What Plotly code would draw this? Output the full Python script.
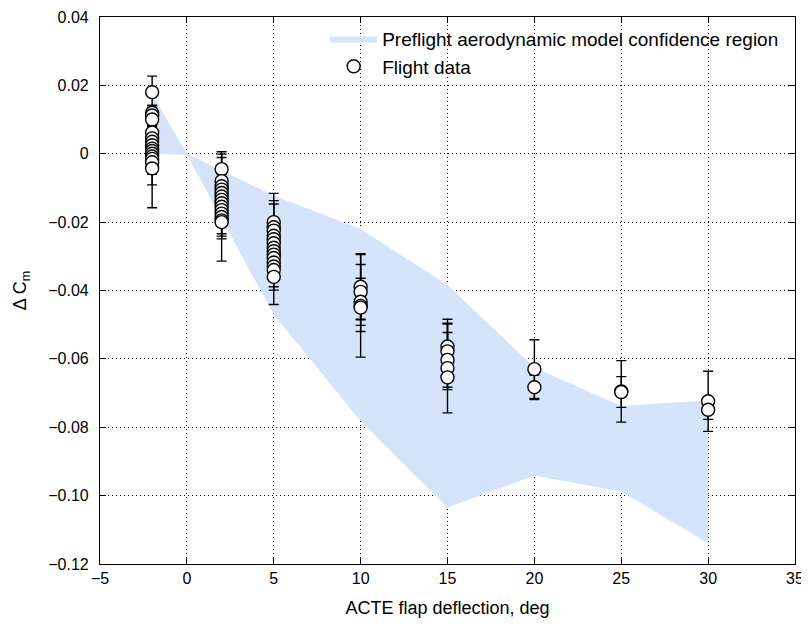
import plotly.graph_objects as go

# ---------------- data ----------------
# Preflight aerodynamic model confidence region (upper / lower bounds)
region_x = [-2, 0, 5, 10, 15, 20, 25, 30]
region_upper = [0.0175, 0.0000, -0.0122, -0.0220, -0.0384, -0.0625, -0.0738, -0.0721]
region_lower = [0.0000, -0.0003, -0.0470, -0.0782, -0.1035, -0.0941, -0.0988, -0.1139]

# Flight data, grouped by flap deflection (deg): delta Cm and error half-widths
dcm_m2 = [0.0180, 0.0120, 0.0112, 0.0100, 0.0062, 0.0045, 0.0035, 0.0025, 0.0015,
          0.0008, 0.0000, -0.0008, -0.0015, -0.0025, -0.0043]
err_m2 = [0.0047, 0.0020, 0.0030, 0.0035, 0.0040, 0.0040, 0.0045, 0.0040, 0.0040,
          0.0045, 0.0040, 0.0040, 0.0045, 0.0133, 0.0048]
dcm_2 = [-0.0045, -0.0080, -0.0095, -0.0105, -0.0115, -0.0125, -0.0135, -0.0145,
         -0.0155, -0.0165, -0.0175, -0.0185, -0.0195, -0.0200]
err_2 = [0.0051, 0.0079, 0.0084, 0.0045, 0.0040, 0.0045, 0.0040, 0.0045,
         0.0040, 0.0045, 0.0139, 0.0056, 0.0039, 0.0049]
dcm_5 = [-0.0200, -0.0215, -0.0225, -0.0240, -0.0250, -0.0262, -0.0275, -0.0285,
         -0.0295, -0.0305, -0.0318, -0.0330, -0.0340, -0.0360]
err_5 = [0.0084, 0.0078, 0.0078, 0.0045, 0.0050, 0.0045, 0.0050, 0.0045,
         0.0050, 0.0045, 0.0050, 0.0059, 0.0059, 0.0081]
dcm_10 = [-0.0389, -0.0404, -0.0433, -0.0445, -0.0450]
err_10 = [0.0097, 0.0080, 0.0069, 0.0150, 0.0070]
dcm_15 = [-0.0564, -0.0578, -0.0603, -0.0627, -0.0654]
err_15 = [0.0080, 0.0080, 0.0080, 0.0131, 0.0036]
dcm_20 = [-0.0630, -0.0683]
err_20 = [0.0086, 0.0036]
dcm_25 = [-0.0695, -0.0697]
err_25 = [0.0090, 0.0045]
dcm_30 = [-0.0724, -0.0749]
err_30 = [0.0088, 0.0028]

flap_groups = [-2, 2, 5, 10, 15, 20, 25, 30]
dcm_groups = [dcm_m2, dcm_2, dcm_5, dcm_10, dcm_15, dcm_20, dcm_25, dcm_30]
err_groups = [err_m2, err_2, err_5, err_10, err_15, err_20, err_25, err_30]

x_ticks = [-5, 0, 5, 10, 15, 20, 25, 30, 35]
y_ticks = [0.04, 0.02, 0, -0.02, -0.04, -0.06, -0.08, -0.10, -0.12]
y_tick_labels = ["0.04", "0.02", "0", "\u22120.02", "\u22120.04", "\u22120.06",
                 "\u22120.08", "\u22120.10", "\u22120.12"]

# ---------------- figure ----------------
fx, fy, fe = [], [], []
for xv, ys, es in zip(flap_groups, dcm_groups, err_groups):
    fx += [xv] * len(ys)
    fy += ys
    fe += es

FONT = "Liberation Sans, Arial, Helvetica, sans-serif"

fig = go.Figure()
fig.add_trace(go.Scatter(
    x=region_x + region_x[::-1],
    y=region_upper + region_lower[::-1],
    fill="toself", mode="lines", line=dict(width=0, color="rgba(0,0,0,0)"),
    fillcolor="rgb(214,228,251)",
    name="Preflight aerodynamic model confidence region",
    hoverinfo="skip",
))
fig.add_trace(go.Scatter(
    x=fx, y=fy, mode="markers",
    marker=dict(symbol="circle", size=13, color="white",
                line=dict(color="black", width=1.4)),
    error_y=dict(type="data", array=fe, visible=True, color="black",
                 thickness=1.4, width=5),
    name="Flight data",
))

axis_common = dict(
    showline=True, linecolor="black", linewidth=1.2, mirror="ticks",
    ticks="inside", ticklen=6, tickwidth=1, tickcolor="black",
    showgrid=True, gridcolor="black", gridwidth=1, griddash="1px,3px",
    zeroline=False, automargin=False, ticklabeloverflow="allow",
    tickfont=dict(family=FONT, size=16, color="black"),
)

# The page body has an 8 px margin, so the figure is sized/offset for it.
fig.update_layout(
    width=801, height=612,
    margin=dict(l=92, r=14, t=9, b=56),
    paper_bgcolor="white", plot_bgcolor="white",
    font=dict(family=FONT, size=16, color="black"),
    showlegend=True,
    legend=dict(x=0.324, y=0.995, xanchor="left", yanchor="top",
                bgcolor="rgba(255,255,255,0)", borderwidth=0,
                font=dict(family=FONT, size=19, color="black"),
                itemwidth=47, tracegroupgap=0),
    xaxis=dict(range=[-5, 35], tickvals=x_ticks,
               title=dict(text="ACTE flap deflection, deg", standoff=15,
                          font=dict(family=FONT, size=18)),
               **axis_common),
    yaxis=dict(range=[-0.120001, 0.040001], tickvals=y_ticks, ticktext=y_tick_labels,
               ticklabelstandoff=7,
               title=dict(text="\u0394 C<sub>m</sub>", standoff=16,
                          font=dict(family=FONT, size=18)),
               **axis_common),
)

fig.write_html("out.html")
